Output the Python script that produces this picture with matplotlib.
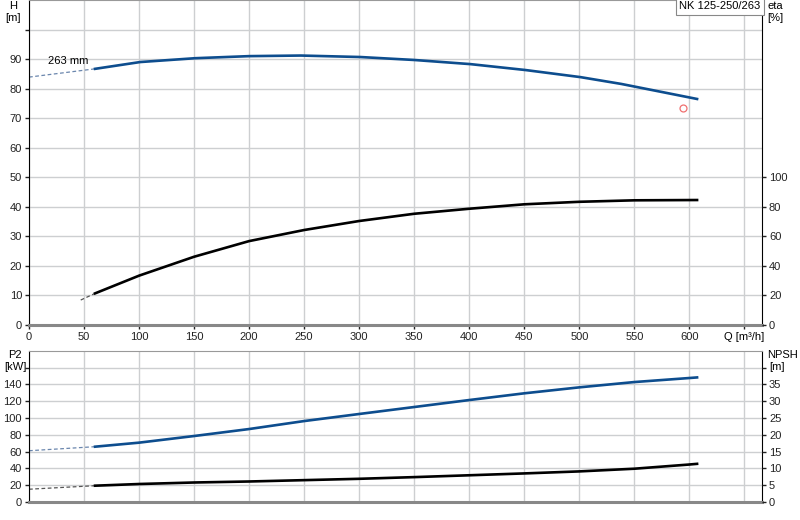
import matplotlib
matplotlib.use("Agg")
import matplotlib.pyplot as plt

plt.rcParams['font.family'] = ['Liberation Sans', 'DejaVu Sans']
plt.rcParams['font.size'] = 8

# --- data ---
q_ticks = [0, 50, 100, 150, 200, 250, 300, 350, 400, 450, 500, 550, 600]

# head H [m]
q_h_ext = [0, 60]
h_ext = [83.9, 86.7]
q_h = [60, 101, 151, 200, 247, 301, 350, 401, 451, 501, 538, 607]
h = [86.7, 89.0, 90.3, 91.0, 91.2, 90.7, 89.7, 88.3, 86.3, 83.9, 81.6, 76.5]

# efficiency eta [%]
q_eta_ext = [47, 60]
eta_ext = [16.9, 21.4]
q_eta = [60, 100, 150, 200, 250, 300, 350, 400, 450, 500, 550, 607]
eta = [21.4, 33.4, 46.2, 56.8, 64.3, 70.4, 75.3, 78.7, 81.7, 83.4, 84.4, 84.6]

# duty point
q_duty = [594]
h_duty = [73.4]

# power P2 [kW]
q_p_ext = [0, 60]
p2_ext = [61.0, 65.8]
q_p = [60, 100, 150, 200, 250, 300, 350, 400, 450, 500, 550, 600, 607]
p2 = [65.8, 70.6, 78.5, 86.8, 96.3, 104.7, 113.0, 121.3, 129.3, 136.4, 142.7, 147.5, 148.2]

# NPSH [m]
q_n_ext = [0, 60]
npsh_ext = [3.8, 4.85]
q_n = [60, 100, 150, 200, 250, 300, 350, 400, 450, 500, 550, 600, 607]
npsh = [4.85, 5.35, 5.8, 6.1, 6.5, 6.9, 7.4, 7.95, 8.5, 9.1, 9.9, 11.15, 11.35]

pump_name = "NK 125-250/263"
imp_label = "263 mm"

blue = '#0d4d8e'
grid_c = '#cdcfd1'
W, H = 800, 520

fig = plt.figure(figsize=(8, 5.2), dpi=100)
ax1 = fig.add_axes([29 / W, (H - 325) / H, 733 / W, 325 / H])
ax2 = fig.add_axes([29 / W, (H - 502) / H, 733 / W, 151.3 / H])


def style(ax, ylim, yticks, ylab):
    ax.set_xlim(0, 666)
    ax.set_ylim(*ylim)
    ax.set_xticks(q_ticks + [650])
    ax.set_yticks(yticks)
    ax.set_yticklabels(ylab)
    ax.grid(True, color=grid_c, linewidth=1)
    ax.set_axisbelow(True)
    ax.tick_params(length=3, width=1, pad=2, labelsize=8, colors='#222222')
    ax.spines['left'].set_color('black')
    ax.spines['right'].set_color('black')
    ax.spines['top'].set_color('#999999')
    ax.spines['bottom'].set_color('#888888')
    ax.spines['bottom'].set_linewidth(2.2)


# --- top: H and eta ---
style(ax1, (0, 110), list(range(0, 101, 10)),
      [str(v) for v in range(0, 91, 10)] + [''])
ax1.set_xticklabels([str(v) for v in q_ticks] + [''])
ax1.plot(q_h_ext, h_ext, color='#6a86ad', lw=0.9, ls=(0, (3, 2)))
ax1.plot(q_h, h, color=blue, lw=1.9, solid_joinstyle='round')
ax1.plot(q_eta_ext, [e / 2 for e in eta_ext], color='#555555', lw=0.9, ls=(0, (3, 2)))
ax1.plot(q_eta, [e / 2 for e in eta], color='black', lw=1.9, solid_joinstyle='round')
ax1.plot(q_duty, h_duty, 'o', ms=5, mfc='none', mec='#f07070', mew=0.9)
ax1.text(17, 89.5, imp_label, fontsize=8, ha='left', va='center')
ax1.text(650, -2.2, 'Q [m³/h]', fontsize=8, ha='center', va='top')
ax1.text(0.998, 0.996, pump_name, transform=ax1.transAxes, ha='right', va='top',
         fontsize=8, bbox=dict(boxstyle='square,pad=0.3', fc='white', ec='#888888', lw=0.8))

ax1r = ax1.twinx()
ax1r.set_ylim(0, 220)
ax1r.set_yticks(list(range(0, 101, 20)))
ax1r.tick_params(length=3, width=1, pad=2, labelsize=8, colors='#222222')
for s in ax1r.spines.values():
    s.set_visible(False)

fig.text(13 / W, 1 - 6 / H, 'H', ha='center', va='center', fontsize=8)
fig.text(13 / W, 1 - 18 / H, '[m]', ha='center', va='center', fontsize=8)
fig.text(775 / W, 1 - 6 / H, 'eta', ha='center', va='center', fontsize=8)
fig.text(775 / W, 1 - 18 / H, '[%]', ha='center', va='center', fontsize=8)

# --- bottom: P2 and NPSH ---
style(ax2, (0, 180), list(range(0, 161, 20)),
      [str(v) for v in range(0, 141, 20)] + [''])
ax2.set_xticklabels([])
ax2.tick_params(axis='x', length=0)
ax2.plot(q_p_ext, p2_ext, color='#6a86ad', lw=0.9, ls=(0, (3, 2)))
ax2.plot(q_p, p2, color=blue, lw=1.9, solid_joinstyle='round')
ax2.plot(q_n_ext, [n * 4 for n in npsh_ext], color='#555555', lw=0.9, ls=(0, (3, 2)))
ax2.plot(q_n, [n * 4 for n in npsh], color='black', lw=1.9, solid_joinstyle='round')

ax2r = ax2.twinx()
ax2r.set_ylim(0, 45)
ax2r.set_yticks(list(range(0, 41, 5)))
ax2r.set_yticklabels([str(v) for v in range(0, 36, 5)] + [''])
ax2r.tick_params(length=3, width=1, pad=2, labelsize=8, colors='#222222')
for s in ax2r.spines.values():
    s.set_visible(False)

fig.text(15 / W, 1 - 355 / H, 'P2', ha='center', va='center', fontsize=8)
fig.text(15 / W, 1 - 367 / H, '[kW]', ha='center', va='center', fontsize=8)
fig.text(783 / W, 1 - 355 / H, 'NPSH', ha='center', va='center', fontsize=8)
fig.text(777 / W, 1 - 367 / H, '[m]', ha='center', va='center', fontsize=8)

fig.savefig('out.png', dpi=100)
